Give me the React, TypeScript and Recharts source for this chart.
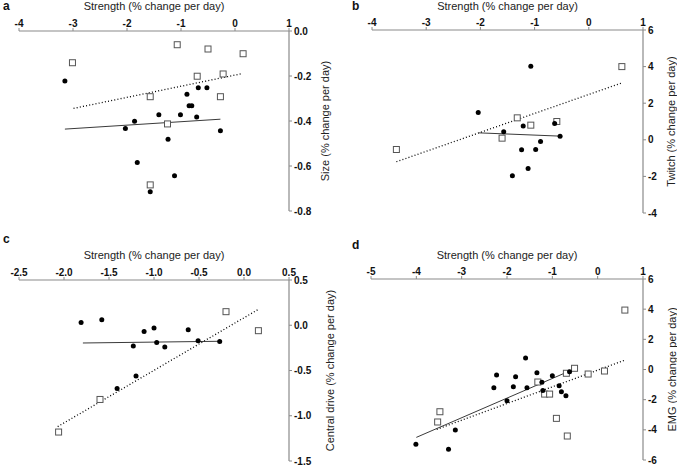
import React from 'react';
import { ScatterChart, Scatter, XAxis, YAxis, ReferenceLine } from 'recharts';

// ---------- Panel a: Size ----------
const aCircles = [
  { x: -3.15, y: -0.222 }, { x: -2.03, y: -0.433 }, { x: -1.86, y: -0.401 }, { x: -1.81, y: -0.584 },
  { x: -1.41, y: -0.372 }, { x: -1.24, y: -0.481 }, { x: -1.12, y: -0.643 }, { x: -1.57, y: -0.714 },
  { x: -1.01, y: -0.372 }, { x: -0.89, y: -0.281 }, { x: -0.85, y: -0.332 }, { x: -0.8, y: -0.332 },
  { x: -0.71, y: -0.382 }, { x: -0.68, y: -0.252 }, { x: -0.52, y: -0.252 }, { x: -0.27, y: -0.443 },
];
const aSquares = [
  { x: -3.01, y: -0.141 }, { x: -1.07, y: -0.061 }, { x: -0.5, y: -0.08 }, { x: 0.15, y: -0.101 },
  { x: -0.7, y: -0.201 }, { x: -0.22, y: -0.191 }, { x: -1.57, y: -0.292 }, { x: -0.27, y: -0.292 },
  { x: -1.25, y: -0.413 }, { x: -1.57, y: -0.684 },
];
const aSolid = [{ x: -3.15, y: -0.436 }, { x: -0.27, y: -0.392 }];
const aDotted = [{ x: -2.99, y: -0.344 }, { x: 0.12, y: -0.19 }];
const aXTicks = [-4, -3, -2, -1, 0, 1];
const aYTicks = [0, -0.2, -0.4, -0.6, -0.8];

// ---------- Panel b: Twitch ----------
const bCircles = [
  { x: -2.04, y: 1.49 }, { x: -1.57, y: 0.44 }, { x: -1.21, y: 0.75 }, { x: -1.07, y: 4.02 },
  { x: -1.24, y: -0.55 }, { x: -0.98, y: -0.53 }, { x: -0.89, y: -0.09 }, { x: -0.63, y: 0.89 },
  { x: -0.53, y: 0.2 }, { x: -1.12, y: -1.57 }, { x: -1.41, y: -1.97 },
];
const bSquares = [
  { x: -3.55, y: -0.53 }, { x: -1.32, y: 1.2 }, { x: -1.07, y: 0.8 }, { x: -1.6, y: 0.09 },
  { x: -0.59, y: 1.0 }, { x: 0.61, y: 4.0 },
];
const bSolid = [{ x: -2.03, y: 0.38 }, { x: -0.53, y: 0.2 }];
const bDotted = [{ x: -3.55, y: -1.2 }, { x: 0.63, y: 3.13 }];
const bXTicks = [-4, -3, -2, -1, 0, 1];
const bYTicks = [6, 4, 2, 0, -2, -4];

// ---------- Panel c: Central drive ----------
const cCircles = [
  { x: -1.81, y: 0.03 }, { x: -1.58, y: 0.06 }, { x: -1.11, y: -0.07 }, { x: -1.0, y: -0.03 },
  { x: -1.23, y: -0.23 }, { x: -0.97, y: -0.19 }, { x: -0.88, y: -0.24 }, { x: -0.62, y: -0.05 },
  { x: -0.51, y: -0.17 }, { x: -0.27, y: -0.18 }, { x: -1.2, y: -0.56 }, { x: -1.41, y: -0.7 },
];
const cSquares = [
  { x: -2.06, y: -1.18 }, { x: -1.6, y: -0.82 }, { x: -0.2, y: 0.15 }, { x: 0.16, y: -0.06 },
];
const cSolid = [{ x: -1.79, y: -0.196 }, { x: -0.27, y: -0.177 }];
const cDotted = [{ x: -2.07, y: -1.12 }, { x: 0.15, y: 0.17 }];
const cXTicks = [-2.5, -2.0, -1.5, -1.0, -0.5, 0.0, 0.5];
const cYTicks = [0.5, 0.0, -0.5, -1.0, -1.5];

// ---------- Panel d: EMG ----------
const dCircles = [
  { x: -4.01, y: -4.96 }, { x: -3.29, y: -5.29 }, { x: -3.14, y: -4.01 }, { x: -2.29, y: -1.21 },
  { x: -2.23, y: -0.37 }, { x: -2.0, y: -2.07 }, { x: -1.86, y: -1.14 }, { x: -1.81, y: -0.48 },
  { x: -1.59, y: 0.76 }, { x: -1.56, y: -1.21 }, { x: -1.34, y: -0.21 }, { x: -1.23, y: -0.85 },
  { x: -1.21, y: -1.4 }, { x: -1.0, y: -0.41 }, { x: -0.85, y: -1.07 }, { x: -0.8, y: -1.47 },
  { x: -0.7, y: -1.74 }, { x: -0.62, y: -0.15 },
];
const dSquares = [
  { x: -3.48, y: -2.8 }, { x: -3.53, y: -3.48 }, { x: -1.32, y: -0.83 }, { x: -1.17, y: -1.63 },
  { x: -1.06, y: -1.63 }, { x: -0.91, y: -3.24 }, { x: -0.67, y: -4.41 }, { x: -0.69, y: -0.25 },
  { x: -0.51, y: 0.08 }, { x: -0.21, y: -0.3 }, { x: 0.15, y: -0.1 }, { x: 0.6, y: 3.94 },
];
const dSolid = [{ x: -4.0, y: -4.5 }, { x: -0.62, y: -0.1 }];
const dDotted = [{ x: -3.55, y: -3.97 }, { x: 0.58, y: 0.6 }];
const dXTicks = [-5, -4, -3, -2, -1, 0, 1];
const dYTicks = [6, 4, 2, 0, -2, -4, -6];

const FONT = "'Liberation Sans', Arial, Helvetica, sans-serif";
const AXIS = '#8a8a8a';

const circleShape = (p: any) => <circle cx={p.cx} cy={p.cy} r={2.5} fill="#000" />;
const squareShape = (p: any) => (
  <rect x={p.cx - 3} y={p.cy - 3} width={6} height={6} fill="#fff" stroke="#555" strokeWidth={1} />
);

type PanelProps = {
  left: number; top: number; width: number; height: number;
  margin: { top: number; right: number; bottom: number; left: number };
  xHeight: number; yWidth: number;
  xDomain: number[]; yDomain: number[];
  xTicks: number[]; yTicks: number[];
  xFmt: (v: number) => string; yFmt: (v: number) => string;
  yLabel: string;
  circles: { x: number; y: number }[]; squares: { x: number; y: number }[];
  solid: { x: number; y: number }[]; dotted: { x: number; y: number }[];
};

function Panel(p: PanelProps) {
  const tickStyle = { fontSize: 10, fontWeight: 'bold', fill: '#111', fontFamily: FONT };
  return (
    <div style={{ position: 'absolute', left: p.left, top: p.top }}>
      <ScatterChart width={p.width} height={p.height} margin={p.margin}>
        <XAxis
          type="number" dataKey="x" orientation="top" domain={p.xDomain} ticks={p.xTicks}
          allowDataOverflow interval={0} height={p.xHeight}
          tickFormatter={p.xFmt} tick={tickStyle} tickSize={3} tickMargin={1}
          axisLine={{ stroke: AXIS, strokeWidth: 1.2 }} tickLine={{ stroke: AXIS }}
          label={{ value: 'Strength (% change per day)', position: 'insideTop', offset: 2, fontSize: 11, fill: '#222', fontFamily: FONT }}
        />
        <YAxis
          type="number" dataKey="y" orientation="right" domain={p.yDomain} ticks={p.yTicks}
          allowDataOverflow interval={0} width={p.yWidth}
          tickFormatter={p.yFmt} tick={{ ...tickStyle, textAnchor: 'start' }} tickSize={3} tickMargin={2}
          axisLine={{ stroke: AXIS, strokeWidth: 1.2 }} tickLine={{ stroke: AXIS }}
          label={{ value: p.yLabel, angle: -90, position: 'center', fontSize: 11, fill: '#222', fontFamily: FONT }}
        />
        <ReferenceLine segment={p.solid} stroke="#3a3a3a" strokeWidth={1} ifOverflow="visible" />
        <ReferenceLine segment={p.dotted} stroke="#000" strokeWidth={1.3} strokeDasharray="1 2.2" ifOverflow="visible" />
        <Scatter data={p.squares} shape={squareShape} isAnimationActive={false} />
        <Scatter data={p.circles} shape={circleShape} isAnimationActive={false} />
      </ScatterChart>
    </div>
  );
}

const int = (v: number) => String(v);
const one = (v: number) => v.toFixed(1);

const letterStyle: React.CSSProperties = {
  position: 'absolute', fontSize: 12, fontWeight: 'bold', lineHeight: '12px', fontFamily: FONT, color: '#111',
};

export default function App() {
  return (
    <div style={{ position: 'absolute', left: 0, top: 0, width: 677, height: 466, overflow: 'hidden', background: '#fff', fontFamily: FONT }}>
      <Panel
        left={0} top={0} width={361} height={223}
        margin={{ top: 0, right: 0, bottom: 12, left: 19 }} xHeight={31} yWidth={72}
        xDomain={[-4, 1]} yDomain={[-0.8, 0]} xTicks={aXTicks} yTicks={aYTicks}
        xFmt={int} yFmt={one} yLabel="Size (% change per day)"
        circles={aCircles} squares={aSquares} solid={aSolid} dotted={aDotted}
      />
      <Panel
        left={338} top={0} width={361} height={225}
        margin={{ top: 0, right: 0, bottom: 12, left: 34 }} xHeight={30} yWidth={56}
        xDomain={[-4, 1]} yDomain={[-4, 6]} xTicks={bXTicks} yTicks={bYTicks}
        xFmt={int} yFmt={int} yLabel="Twitch (% change per day)"
        circles={bCircles} squares={bSquares} solid={bSolid} dotted={bDotted}
      />
      <Panel
        left={0} top={249} width={371} height={217}
        margin={{ top: 0, right: 0, bottom: 5, left: 19 }} xHeight={31} yWidth={82}
        xDomain={[-2.5, 0.5]} yDomain={[-1.5, 0.5]} xTicks={cXTicks} yTicks={cYTicks}
        xFmt={one} yFmt={one} yLabel="Central drive (% change per day)"
        circles={cCircles} squares={cSquares} solid={cSolid} dotted={cDotted}
      />
      <Panel
        left={338} top={249} width={363} height={217}
        margin={{ top: 0, right: 0, bottom: 6, left: 33 }} xHeight={30} yWidth={58}
        xDomain={[-5, 1]} yDomain={[-6, 6]} xTicks={dXTicks} yTicks={dYTicks}
        xFmt={int} yFmt={int} yLabel="EMG (% change per day)"
        circles={dCircles} squares={dSquares} solid={dSolid} dotted={dDotted}
      />
      <div style={{ ...letterStyle, left: 3, top: 0 }}>a</div>
      <div style={{ ...letterStyle, left: 352, top: 0 }}>b</div>
      <div style={{ ...letterStyle, left: 3, top: 233 }}>c</div>
      <div style={{ ...letterStyle, left: 352, top: 239 }}>d</div>
    </div>
  );
}
